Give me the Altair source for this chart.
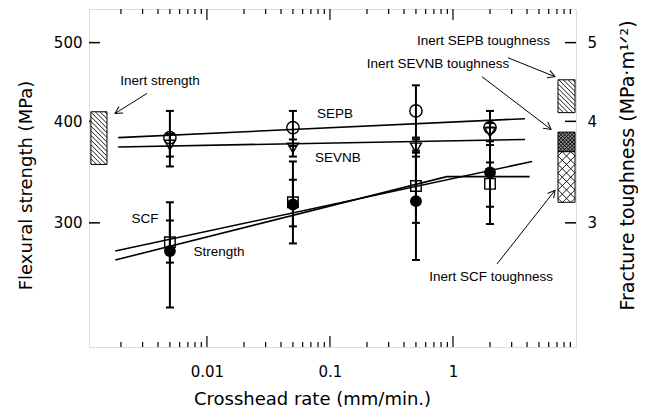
import math
import altair as alt
import pandas as pd

# ---------------- data ----------------
rates = [0.005, 0.05, 0.5, 2]

sepb = [382, 393, 412, 393]
sepb_lo = [352, 373, 382, 374]
sepb_hi = [412, 412, 443, 412]

sevnb = [374, 371, 371, 388]
sevnb_lo = [362, 362, 362, 378]
sevnb_hi = [386, 380, 380, 398]

scf = [284, 318, 333, 335]
scf_lo = [268, 297, 300, 314]
scf_hi = [302, 339, 366, 356]

strength = [277, 316, 319, 346]
strength_lo = [236, 283, 270, 299]
strength_hi = [318, 357, 368, 393]

# fitted lines
fit_names = ["SEPB", "SEPB", "SEVNB", "SEVNB", "SCF", "SCF", "Strength", "Strength", "Strength"]
fit_x = [0.0019, 3.85, 0.0019, 3.85, 0.0018, 4.4, 0.0018, 0.89, 4.2]
fit_y = [382, 403, 372, 380, 277, 357, 270, 342, 342]

# inert strength band (MPa)
inert_x = [0.00114, 0.00154]
inert_y = [354, 411]

# inert toughness bands (MPa m^1/2)
tough_names = ["SEPB", "SEVNB", "SCF"]
tough_x = [7.14, 9.82]
tough_lo = [4.10, 3.67, 3.18]
tough_hi = [4.50, 3.88, 3.67]
tough_fill = ["white", "#8c8c8c", "white"]

# annotation texts
lab_text = ["Inert strength", "Inert SEPB toughness", "Inert SEVNB toughness",
            "Inert SCF toughness", "SEPB", "SEVNB", "SCF", "Strength"]
lab_x = [0.00416, 1.77, 0.756, 2.04, 0.110, 0.116, 0.00314, 0.01254]
lab_y = [449, 503, 471, 257, 408, 361, 303, 276]

# annotation arrows (tail -> head)
arr_x1 = [0.00326, 2.80, 1.72, 2.28]
arr_y1 = [433, 479, 454, 267]
arr_x2 = [0.00179, 6.75, 6.27, 6.75]
arr_y2 = [409, 454, 391, 329]

# axis ticks
x_major = [0.01, 0.1, 1]
x_minor = [0.002, 0.003, 0.004, 0.005, 0.006, 0.007, 0.008, 0.009,
           0.02, 0.03, 0.04, 0.05, 0.06, 0.07, 0.08, 0.09,
           0.2, 0.3, 0.4, 0.5, 0.6, 0.7, 0.8, 0.9,
           2, 3, 4, 5, 6, 7, 8, 9]
y_major = [300, 400, 500]
t_major = [3, 4, 5]

# ---------------- geometry ----------------
W, H = 487, 338
XD = [0.0011, 10]
YD = [211, 550]
TD = [2.11, 5.5]

xs = alt.Scale(type="log", domain=XD, nice=False)
ys = alt.Scale(type="log", domain=YD, nice=False)
ts = alt.Scale(type="log", domain=TD, nice=False)

AX_FONT = "DejaVu Sans"
AN_FONT = "Liberation Sans, Arial"

x_axis = alt.Axis(values=x_major, format="~g", ticks=False, domain=False, grid=False,
                  labelFont=AX_FONT, labelFontSize=15, labelColor="black", labelPadding=17,
                  title="Crosshead rate (mm/min.)", titleFont=AX_FONT, titleFontSize=18,
                  titleFontWeight="normal", titleColor="black", titleX=223, titleY=57,
                  titleAlign="center", titleBaseline="alphabetic")
y_axis = alt.Axis(values=y_major, ticks=False, domain=False, grid=False,
                  labelFont=AX_FONT, labelFontSize=15, labelColor="black", labelPadding=7,
                  title="Flexural strength (MPa)", titleFont=AX_FONT, titleFontSize=18,
                  titleFontWeight="normal", titleColor="black", titleAngle=270,
                  titleX=-63, titleY=176, titleAlign="center", titleBaseline="middle")
t_axis = alt.Axis(orient="right", values=t_major, ticks=False, domain=False, grid=False,
                  labelFont=AX_FONT, labelFontSize=15, labelColor="black", labelPadding=11,
                  title="Fracture toughness (MPa\u00b7m\u00b9\u141f\u00b2)", titleFont=AX_FONT,
                  titleFontSize=19, titleFontWeight="normal", titleColor="black",
                  titleAngle=270, titleX=51, titleY=156, titleAlign="center",
                  titleBaseline="middle")

LX = (math.log10(XD[0]), math.log10(XD[1]))
LY = (math.log10(YD[0]), math.log10(YD[1]))


def px(v):
    return (math.log10(v) - LX[0]) / (LX[1] - LX[0]) * W


def py(v):
    return H - (math.log10(v) - LY[0]) / (LY[1] - LY[0]) * H


def inv_x(p):
    return 10 ** (LX[0] + p / W * (LX[1] - LX[0]))


def inv_y(p):
    return 10 ** (LY[0] + (H - p) / H * (LY[1] - LY[0]))


def hatch(xa, xb, ya, yb, spacing, direction):
    """diagonal hatch segments inside the box given in data units (y in MPa)."""
    x0, x1 = px(xa), px(xb)
    y0, y1 = py(yb), py(ya)  # top, bottom in pixels
    step = spacing * math.sqrt(2)
    segs = []
    if direction > 0:  # "\" lines: y = x + c
        c = y0 - x1 + step / 2
        while c < y1 - x0:
            xs0, xs1 = max(x0, y0 - c), min(x1, y1 - c)
            if xs1 > xs0:
                segs.append((inv_x(xs0), inv_y(xs0 + c), inv_x(xs1), inv_y(xs1 + c)))
            c += step
    else:  # "/" lines: y = -x + c
        c = x0 + y0 + step / 2
        while c < x1 + y1:
            xs0, xs1 = max(x0, c - y1), min(x1, c - y0)
            if xs1 > xs0:
                segs.append((inv_x(xs0), inv_y(c - xs0), inv_x(xs1), inv_y(c - xs1)))
            c += step
    return segs


# ---------------- tables ----------------
rows = []
for name, v, lo, hi in [("SEPB", sepb, sepb_lo, sepb_hi), ("SEVNB", sevnb, sevnb_lo, sevnb_hi),
                        ("SCF", scf, scf_lo, scf_hi), ("Strength", strength, strength_lo, strength_hi)]:
    for r, a, b, c in zip(rates, v, lo, hi):
        rows.append({"series": name, "rate": r, "val": a, "lo": b, "hi": c})
pts = pd.DataFrame(rows)
caps = pd.concat([pts[["rate", "lo"]].rename(columns={"lo": "v"}),
                  pts[["rate", "hi"]].rename(columns={"hi": "v"})])

fits = pd.DataFrame({"series": fit_names, "x": fit_x, "y": fit_y, "i": range(len(fit_x))})
inert = pd.DataFrame({"x": [inert_x[0]], "x2": [inert_x[1]], "y": [inert_y[0]], "y2": [inert_y[1]]})
tough = pd.DataFrame({"name": tough_names, "x": tough_x[0], "x2": tough_x[1],
                      "lo": tough_lo, "hi": tough_hi, "fill": tough_fill})
labs = pd.DataFrame({"t": lab_text, "x": lab_x, "y": lab_y})
arrows = pd.DataFrame({"x": arr_x1, "y": arr_y1, "x2": arr_x2, "y2": arr_y2})
arrows["ang"] = [math.degrees(math.atan2(py(b2) - py(b1), px(a2) - px(a1))) % 360
                 for a1, b1, a2, b2 in zip(arr_x1, arr_y1, arr_x2, arr_y2)]

# hatching of the bands (toughness converted onto the MPa pixel scale, same geometry)
hsegs = []
hsegs += hatch(inert_x[0], inert_x[1], inert_y[0], inert_y[1], 3.3, +1)
hsegs += hatch(tough_x[0], tough_x[1], tough_lo[0] * 100, tough_hi[0] * 100, 3.3, +1)
hsegs += hatch(tough_x[0], tough_x[1], tough_lo[1] * 100, tough_hi[1] * 100, 2.6, +1)
hsegs += hatch(tough_x[0], tough_x[1], tough_lo[1] * 100, tough_hi[1] * 100, 2.6, -1)
hsegs += hatch(tough_x[0], tough_x[1], tough_lo[2] * 100, tough_hi[2] * 100, 6.0, +1)
hsegs += hatch(tough_x[0], tough_x[1], tough_lo[2] * 100, tough_hi[2] * 100, 6.0, -1)
hatch_df = pd.DataFrame(hsegs, columns=["x", "y", "x2", "y2"])

xmaj = pd.DataFrame({"v": x_major})
xmin = pd.DataFrame({"v": x_minor})
ymaj = pd.DataFrame({"v": y_major})


# ---------------- layers ----------------
def X(f):
    return alt.X(f, type="quantitative", scale=xs, axis=x_axis)


def Y(f):
    return alt.Y(f, type="quantitative", scale=ys, axis=y_axis)


tick_layers = []
for df, ln in [(xmaj, 11), (xmin, 5)]:
    tick_layers.append(alt.Chart(df).mark_rule(color="black", strokeWidth=1.2).encode(
        x=X("v"), y=alt.value(H), y2=alt.value(H - ln)))
    tick_layers.append(alt.Chart(df).mark_rule(color="black", strokeWidth=1.2).encode(
        x=X("v"), y=alt.value(0), y2=alt.value(ln)))
tick_layers.append(alt.Chart(ymaj).mark_rule(color="black", strokeWidth=1.5).encode(
    y=Y("v"), x=alt.value(0), x2=alt.value(11)))
tick_layers.append(alt.Chart(ymaj).mark_rule(color="black", strokeWidth=1.5).encode(
    y=Y("v"), x=alt.value(W), x2=alt.value(W - 11)))

inert_box = alt.Chart(inert).mark_rect(fill="white", stroke="black", strokeWidth=1).encode(
    x=X("x"), x2="x2", y=Y("y"), y2="y2")

hatch_lines = alt.Chart(hatch_df).mark_rule(color="black", strokeWidth=0.9).encode(
    x=X("x"), y=Y("y"), x2="x2", y2="y2")

fit_lines = alt.Chart(fits).mark_line(color="black", strokeWidth=1.6).encode(
    x=X("x"), y=Y("y"), detail="series:N", order="i:Q")

ebars = alt.Chart(pts).mark_rule(color="black", strokeWidth=2).encode(
    x=X("rate"), y=Y("lo"), y2="hi:Q")

cap_marks = alt.Chart(caps).mark_point(shape="stroke", size=64, strokeWidth=2,
                                       color="black", filled=False, opacity=1).encode(
    x=X("rate"), y=Y("v"))

markers = []
for name, shape, size, filled in [("SEPB", "circle", 150, False), ("SEVNB", "triangle-down", 120, False),
                                  ("SCF", "square", 110, False), ("Strength", "circle", 140, True)]:
    markers.append(alt.Chart(pts[pts.series == name]).mark_point(
        shape=shape, size=size, filled=filled, color="black", strokeWidth=1.4, opacity=1).encode(
        x=X("rate"), y=Y("val")))

arrow_lines = alt.Chart(arrows).mark_rule(color="black", strokeWidth=1).encode(
    x=X("x"), y=Y("y"), x2="x2", y2="y2")
arrow_heads = alt.Chart(arrows).mark_point(shape="M-1,-0.55L0,0L-1,0.55", size=200, filled=False,
                                           color="black", strokeWidth=1, opacity=1).encode(
    x=X("x2"), y=Y("y2"), angle=alt.Angle("ang:Q", scale=None))

texts = alt.Chart(labs).mark_text(font=AN_FONT, fontSize=13.5, color="black").encode(
    x=X("x"), y=Y("y"), text="t:N")

main = alt.layer(*tick_layers, inert_box, hatch_lines, fit_lines, ebars, cap_marks, *markers,
                 arrow_lines, arrow_heads, texts)

tough_layer = alt.Chart(tough).mark_rect(stroke="black", strokeWidth=1).encode(
    x=X("x"), x2="x2",
    y=alt.Y("lo:Q", scale=ts, axis=t_axis),
    y2="hi:Q",
    fill=alt.Fill("fill:N", scale=None))

chart = alt.layer(tough_layer, main).resolve_scale(y="independent").properties(
    width=W, height=H,
    autosize=alt.AutoSizeParams(type="none"),
    padding={"left": 81, "top": 1, "right": 62, "bottom": 61},
).configure_view(stroke="black", strokeWidth=1.8).configure(background="white")

chart.save("out.html", embed_options={"renderer": "svg", "actions": False})
